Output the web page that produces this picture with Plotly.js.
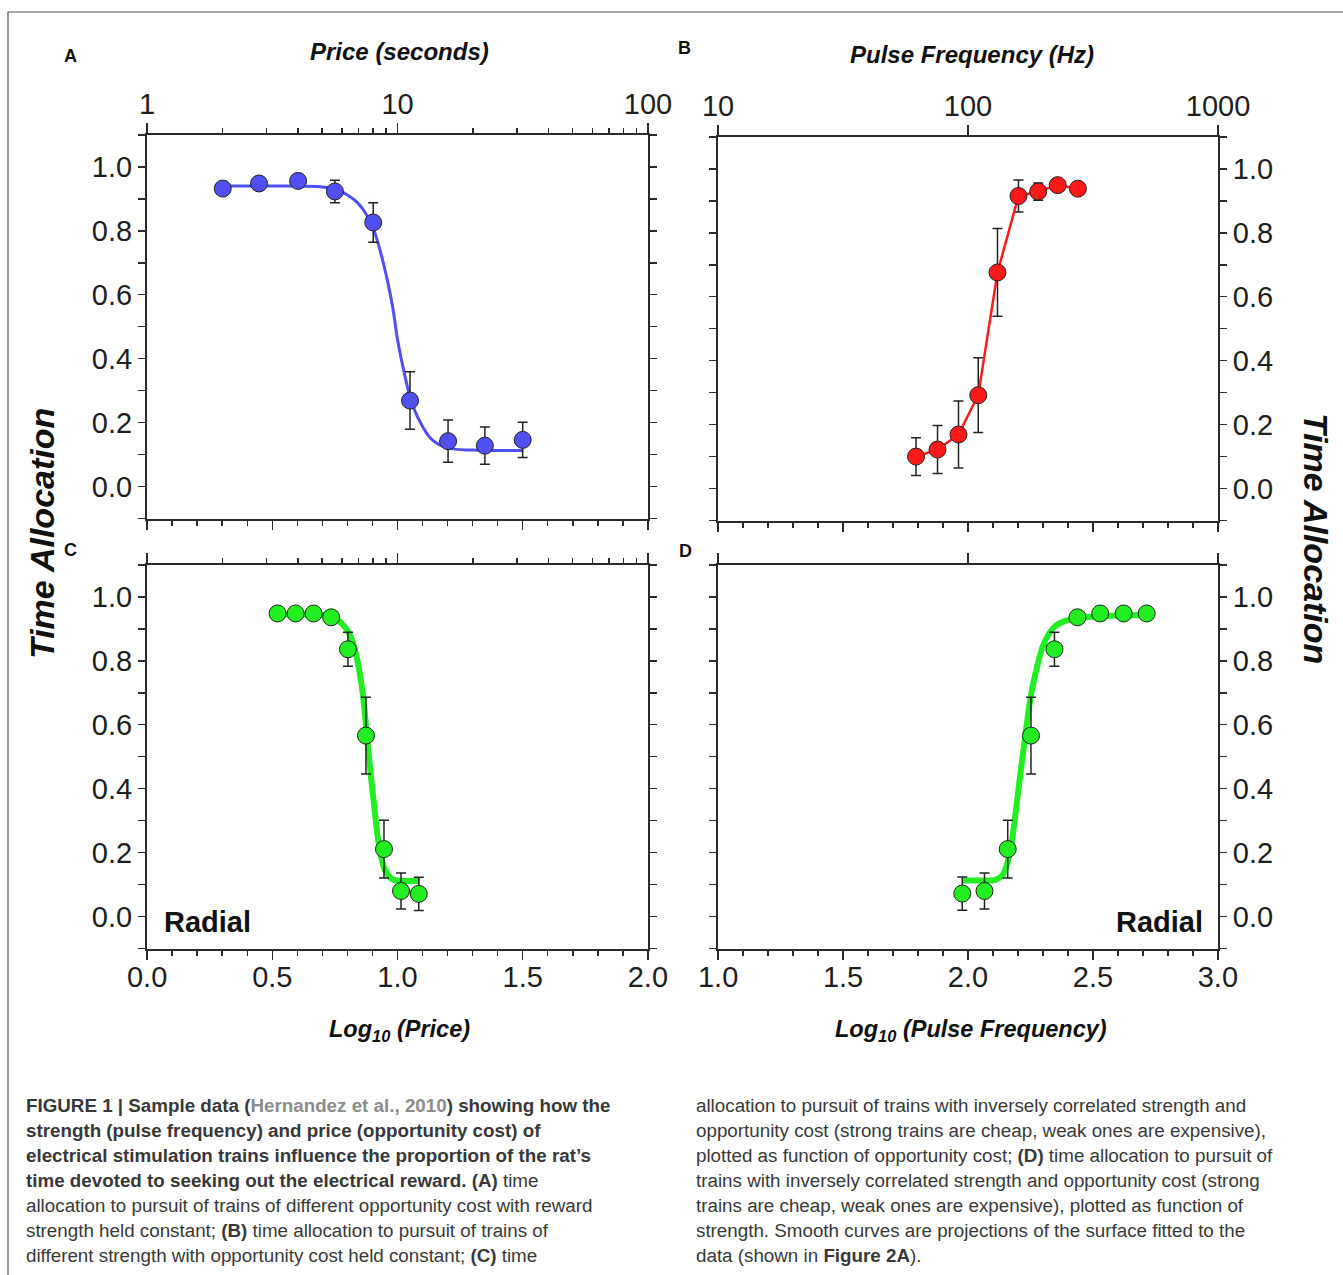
<!DOCTYPE html>
<html>
<head>
<meta charset="utf-8">
<script src="https://cdn.plot.ly/plotly-3.0.1.min.js"></script>
<style>
html,body{margin:0;padding:0;background:#fff;}
#chart{width:1343px;height:1275px;}
</style>
</head>
<body>
<div id="chart"></div>
<script>
// ---------- DATA ----------
// Panel A: time allocation vs log10(price), reward strength constant
var priceLogA = [0.302, 0.447, 0.603, 0.750, 0.903, 1.050, 1.202, 1.349, 1.500];
var taA       = [0.932, 0.948, 0.956, 0.923, 0.826, 0.269, 0.142, 0.128, 0.146];
var errA      = [0.015, 0.015, 0.015, 0.035, 0.062, 0.090, 0.066, 0.058, 0.055];
var fitAx     = [0.30, 0.50, 0.70, 0.76, 0.80, 0.84, 0.87, 0.90, 0.94, 0.98, 1.00, 1.03, 1.06, 1.10, 1.14, 1.20, 1.30, 1.50];
var fitAy     = [0.940, 0.940, 0.937, 0.928, 0.912, 0.888, 0.858, 0.815, 0.710, 0.565, 0.460, 0.345, 0.255, 0.188, 0.145, 0.121, 0.114, 0.113];

// Panel B: time allocation vs log10(pulse frequency), price constant
var freqLogB  = [1.792, 1.878, 1.962, 2.041, 2.118, 2.202, 2.281, 2.359, 2.440];
var taB       = [0.100, 0.122, 0.169, 0.292, 0.676, 0.915, 0.929, 0.949, 0.938];
var errB      = [0.059, 0.075, 0.105, 0.117, 0.137, 0.050, 0.027, 0.015, 0.012];

// Panel C: radial sweep vs log10(price)
var priceLogC = [0.521, 0.593, 0.665, 0.735, 0.802, 0.874, 0.946, 1.014, 1.085];
var taC       = [0.948, 0.948, 0.948, 0.936, 0.836, 0.566, 0.211, 0.080, 0.071];
var errC      = [0.012, 0.012, 0.012, 0.015, 0.053, 0.120, 0.090, 0.056, 0.052];
var fitCx     = [0.52, 0.60, 0.70, 0.74, 0.77, 0.80, 0.82, 0.84, 0.86, 0.877, 0.894, 0.91, 0.927, 0.95, 0.98, 1.02, 1.09];
var fitCy     = [0.945, 0.945, 0.943, 0.938, 0.922, 0.895, 0.862, 0.800, 0.705, 0.573, 0.437, 0.323, 0.219, 0.146, 0.116, 0.112, 0.111];

// Panel D: radial sweep vs log10(pulse frequency)
var freqLogD  = [1.977, 2.066, 2.159, 2.252, 2.346, 2.438, 2.529, 2.623, 2.715];
var taD       = [0.072, 0.080, 0.211, 0.566, 0.836, 0.936, 0.948, 0.948, 0.948];
var errD      = [0.052, 0.056, 0.090, 0.120, 0.053, 0.015, 0.012, 0.012, 0.012];
var fitDx     = [1.977, 2.05, 2.11, 2.139, 2.167, 2.187, 2.208, 2.229, 2.249, 2.27, 2.304, 2.346, 2.387, 2.442, 2.55, 2.716];
var fitDy     = [0.113, 0.113, 0.115, 0.130, 0.198, 0.302, 0.437, 0.563, 0.677, 0.760, 0.854, 0.906, 0.924, 0.934, 0.940, 0.943];

// Tick labels
var priceTickVals = [1, 10, 100];
var priceTickText = ['1', '10', '100'];
var priceMinorVals = [2,3,4,5,6,7,8,9,20,30,40,50,60,70,80,90];
var freqTickVals = [10, 100, 1000];
var freqTickText = ['10', '100', '1000'];
var priceBottomVals = [0, 0.5, 1.0, 1.5, 2.0];
var priceBottomText = ['0.0','0.5','1.0','1.5','2.0'];
var freqBottomVals = [1.0, 1.5, 2.0, 2.5, 3.0];
var freqBottomText = ['1.0','1.5','2.0','2.5','3.0'];
var yTickVals = [0, 0.2, 0.4, 0.6, 0.8, 1.0];
var yTickText = ['0.0','0.2','0.4','0.6','0.8','1.0'];

var captionLeft = [
  '<b>FIGURE 1 | Sample data (</b><span style="color:#8c8c8c"><b>Hernandez et al., 2010</b></span><b>) showing how the</b>',
  '<b>strength (pulse frequency) and price (opportunity cost) of</b>',
  '<b>electrical stimulation trains influence the proportion of the rat\u2019s</b>',
  '<b>time devoted to seeking out the electrical reward. (A)</b> time',
  'allocation to pursuit of trains of different opportunity cost with reward',
  'strength held constant; <b>(B)</b> time allocation to pursuit of trains of',
  'different strength with opportunity cost held constant; <b>(C)</b> time'
];
var captionRight = [
  'allocation to pursuit of trains with inversely correlated strength and',
  'opportunity cost (strong trains are cheap, weak ones are expensive),',
  'plotted as function of opportunity cost; <b>(D)</b> time allocation to pursuit of',
  'trains with inversely correlated strength and opportunity cost (strong',
  'trains are cheap, weak ones are expensive), plotted as function of',
  'strength. Smooth curves are projections of the surface fitted to the',
  'data (shown in <b>Figure 2A</b>).'
];

// ---------- STYLE ----------
var W = 1343, H = 1275;
function px(x){ return x / W; }
function py(y){ return 1 - y / H; }
var FONT = 'Liberation Sans, Arial, Helvetica, sans-serif';
var AX = '#2a2a2a';
var BLUE = '#4f4ff2', RED = '#ff1a1a', GREEN = '#22ee22';

var errStyle = function(arr){ return {type:'data', array:arr, visible:true, color:'#222', thickness:1.5, width:5}; };
var mk = function(c){ return {size:17, color:c, line:{color:'#222', width:1}}; };

// invisible helper traces so the top (log) axes are built
function axisHolder(xa, ya, vals){
  return {x:vals, y:vals.map(function(){ return null; }), mode:'markers', marker:{opacity:0}, xaxis:xa, yaxis:ya, hoverinfo:'skip', showlegend:false};
}

var traces = [
  axisHolder('x2', 'y', priceTickVals),
  axisHolder('x4', 'y2', freqTickVals),
  axisHolder('x6', 'y3', priceTickVals),
  axisHolder('x8', 'y4', freqTickVals),
  {x:fitAx, y:fitAy, mode:'lines', line:{color:BLUE, width:3, shape:'spline'}, xaxis:'x', yaxis:'y', hoverinfo:'skip'},
  {x:priceLogA, y:taA, mode:'markers', marker:mk(BLUE), error_y:errStyle(errA), xaxis:'x', yaxis:'y'},
  {x:freqLogB, y:taB, mode:'lines+markers', line:{color:RED, width:2.5}, marker:mk(RED), error_y:errStyle(errB), xaxis:'x3', yaxis:'y2'},
  {x:fitCx, y:fitCy, mode:'lines', line:{color:GREEN, width:6, shape:'spline'}, xaxis:'x5', yaxis:'y3', hoverinfo:'skip'},
  {x:priceLogC, y:taC, mode:'markers', marker:mk(GREEN), error_y:errStyle(errC), xaxis:'x5', yaxis:'y3'},
  {x:fitDx, y:fitDy, mode:'lines', line:{color:GREEN, width:6, shape:'spline'}, xaxis:'x7', yaxis:'y4', hoverinfo:'skip'},
  {x:freqLogD, y:taD, mode:'markers', marker:mk(GREEN), error_y:errStyle(errD), xaxis:'x7', yaxis:'y4'}
];

var TICKFONT = {size:29, color:'#1e1e1e', family:FONT};

function bottomAxis(dom, anchor, range, labels, tvals, ttext){
  return {domain:dom, anchor:anchor, range:range, showline:true, linecolor:AX, linewidth:2,
    ticks:'outside', ticklen:9, tickwidth:1.5, tickcolor:AX, showgrid:false, zeroline:false,
    tickmode:'array', tickvals:tvals, ticktext:ttext, showticklabels:labels,
    ticklabelstandoff:-8,
    tickfont:TICKFONT,
    minor:{tickmode:'linear', tick0:0, dtick:0.1, ticklen:5, tickwidth:1.5, tickcolor:AX, ticks:'outside', showgrid:false}};
}
function topAxis(over, anchor, range, labels, tvals, ttext, minorVals){
  var a = {overlaying:over, anchor:anchor, side:'top', type:'log', range:range, showline:true, linecolor:AX, linewidth:2,
    ticks:'outside', ticklen:10, tickwidth:1.5, tickcolor:AX, showgrid:false, zeroline:false,
    tickmode:'array', tickvals:tvals, ticktext:ttext, showticklabels:labels,
    ticklabelstandoff:-3,
    tickfont:TICKFONT};
  if (minorVals) a.minor = {tickmode:'array', tickvals:minorVals, ticklen:5, tickwidth:1.5, tickcolor:AX, ticks:'outside', showgrid:false};
  return a;
}
function yAxis(dom, anchor, side){
  return {domain:dom, anchor:anchor, side:side, range:[-0.1005, 1.1005], showline:true, linecolor:AX, linewidth:2,
    mirror:'ticks', ticks:'outside', ticklen:7, tickwidth:1.5, tickcolor:AX, showgrid:false, zeroline:false,
    tickmode:'array', tickvals:yTickVals, ticktext:yTickText,
    tickfont:TICKFONT,
    minor:{tickmode:'linear', tick0:0, dtick:0.1, ticklen:7, tickwidth:1.5, tickcolor:AX, ticks:'outside', showgrid:false}};
}

var domAx = [px(147), px(648)];
var domBx = [px(718), px(1218)];
var domAy = [py(518.7), py(134.7)];
var domBy = [py(520.7), py(136.7)];
var domCy = [py(948.7), py(564.7)];

var annotations = [];
function ann(text, x, y, size, opts){
  var a = {text:text, x:px(x), y:py(y), xref:'paper', yref:'paper', showarrow:false,
    font:{family:FONT, size:size, color:'#111'}, xanchor:'center', yanchor:'middle'};
  for (var k in (opts||{})) a[k] = opts[k];
  return a;
}
annotations.push(ann('<b><i>Price (seconds)</i></b>', 399, 52, 24));
annotations.push(ann('<b><i>Pulse Frequency (Hz)</i></b>', 972, 54, 24));
annotations.push(ann('<b><i>Log<sub>10</sub> (Price)</i></b>', 399, 1030, 23.5));
annotations.push(ann('<b><i>Log<sub>10</sub> (Pulse Frequency)</i></b>', 971, 1030, 23.5));
annotations.push(ann('<b><i>Time Allocation</i></b>', 42, 534, 34, {textangle:-90}));
annotations.push(ann('<b><i>Time Allocation</i></b>', 1316, 538, 34, {textangle:90}));
annotations.push(ann('<b>A</b>', 70, 56, 18));
annotations.push(ann('<b>B</b>', 684, 48, 18));
annotations.push(ann('<b>C</b>', 70, 550, 18));
annotations.push(ann('<b>D</b>', 685, 551, 18));
annotations.push(ann('<b>Radial</b>', 162, 922, 29, {xanchor:'left'}));
annotations.push(ann('<b>Radial</b>', 1205, 922, 29, {xanchor:'right'}));

var capY0 = 1105, capDy = 25, capSize = 18.8;
captionLeft.forEach(function(t, i){
  annotations.push(ann(t, 24, capY0 + i*capDy, capSize, {xanchor:'left', font:{family:FONT, size:capSize, color:'#383838'}}));
});
captionRight.forEach(function(t, i){
  annotations.push(ann(t, 694, capY0 + i*capDy, capSize, {xanchor:'left', font:{family:FONT, size:capSize, color:'#383838'}}));
});

var layout = {
  width:W, height:H, margin:{l:0, r:0, t:0, b:0, pad:0},
  paper_bgcolor:'#fff', plot_bgcolor:'rgba(0,0,0,0)',
  font:{family:FONT, color:'#1e1e1e'},
  showlegend:false,
  xaxis:  bottomAxis(domAx, 'y',  [-0.0005, 2.0005], false, priceBottomVals, priceBottomText),
  xaxis2: topAxis('x', 'y', [0, 2], true, priceTickVals, priceTickText, priceMinorVals),
  xaxis3: bottomAxis(domBx, 'y2', [0.9995, 3.0005], false, freqBottomVals, freqBottomText),
  xaxis4: topAxis('x3', 'y2', [1, 3], true, freqTickVals, freqTickText, null),
  xaxis5: bottomAxis(domAx, 'y3', [-0.0005, 2.0005], true, priceBottomVals, priceBottomText),
  xaxis6: topAxis('x5', 'y3', [0, 2], false, priceTickVals, priceTickText, priceMinorVals),
  xaxis7: bottomAxis(domBx, 'y4', [0.9995, 3.0005], true, freqBottomVals, freqBottomText),
  xaxis8: topAxis('x7', 'y4', [1, 3], false, freqTickVals, freqTickText, null),
  yaxis:  yAxis(domAy, 'x', 'left'),
  yaxis2: yAxis(domBy, 'x3', 'right'),
  yaxis3: yAxis(domCy, 'x5', 'left'),
  yaxis4: yAxis(domCy, 'x7', 'right'),
  annotations: annotations,
  shapes: [
    {type:'path', xref:'paper', yref:'paper', path:'M ' + px(8) + ' ' + py(1275) + ' L ' + px(8) + ' ' + py(12) + ' L ' + px(1343) + ' ' + py(12),
     line:{color:'#555', width:1.2}}
  ]
};

Plotly.newPlot('chart', traces, layout, {displayModeBar:false, staticPlot:true});
</script>
</body>
</html>
